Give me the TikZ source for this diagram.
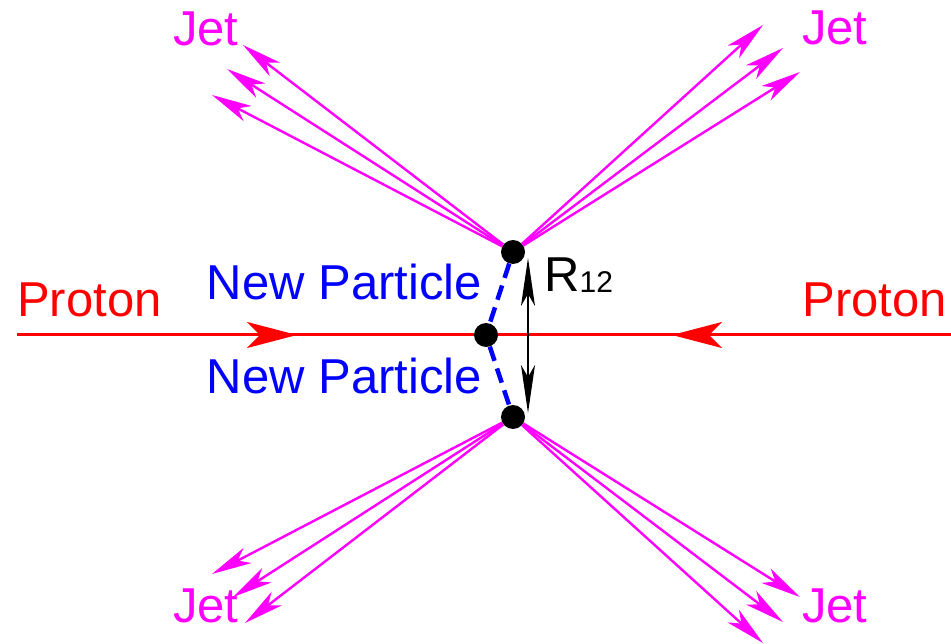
\documentclass[tikz,border=0pt]{standalone}
\usepackage{fontspec}
\setmainfont{Liberation Sans}
\usetikzlibrary{arrows.meta}
\definecolor{jetmag}{RGB}{255,0,255}
\definecolor{protred}{RGB}{255,0,0}
\definecolor{partblue}{RGB}{0,0,255}

\begin{document}
\begin{tikzpicture}[x=1pt,y=-1pt,
  lbl/.style={inner sep=0pt, font=\fontsize{49}{51}\selectfont},
  dot/.style={circle, fill=black, inner sep=0pt, minimum size=24pt},
  proton/.style={protred, line width=3pt},
  protonhead/.style={proton, -{Stealth[length=50pt,width=26pt,inset=13pt]}},
  jet/.style={jetmag, line width=2.4pt, -{Stealth[length=40pt,width=17pt,inset=11pt]}},
  newp/.style={partblue, line width=4.5pt, dash pattern=on 15pt off 8pt},
  rarrow/.style={black, line width=2.4pt, {Stealth[length=48pt,width=14pt,inset=12pt]}-{Stealth[length=48pt,width=14pt,inset=12pt]}}
]
\useasboundingbox (0,0) rectangle (951,644);

% vertices
\node[dot](c) at (486,335){};
\node[dot](top) at (513,252){};
\node[dot](bot) at (513,417){};

% beams
\coordinate (pl) at (17,335);
\coordinate (pr) at (951,335);
\coordinate (hl) at (297,335);
\coordinate (hr) at (672,335);
\draw[proton] (pl) -- (c) -- (pr);
\draw[protonhead] (pl) -- (hl);
\draw[protonhead] (pr) -- (hr);
\node[lbl, protred, anchor=base west](protonl) at (17,317){Proton};
\node[lbl, protred, anchor=base east](protonr) at (947,317){Proton};

% new particles
\draw[newp] (top) -- (c) -- (bot);
\node[lbl, partblue, anchor=base east](newtop) at (482,300){New Particle};
\node[lbl, partblue, anchor=base east](newbot) at (482,393){New Particle};

% separation
\coordinate (r1) at (528,258);
\coordinate (r2) at (528,413);
\draw[rarrow] (r1) -- (r2);
\node[lbl, anchor=base west](rlab) at (544,292){R\raisebox{-1pt}{\fontsize{30}{31}\selectfont 12}};

% jets
\coordinate (tl1) at (243,45);
\coordinate (tl2) at (227,69);
\coordinate (tl3) at (212,95);
\coordinate (tr1) at (763,25);
\coordinate (tr2) at (783,48);
\coordinate (tr3) at (800,72);
\coordinate (bl1) at (212,574);
\coordinate (bl2) at (233,597);
\coordinate (bl3) at (245,623);
\coordinate (br1) at (800,597);
\coordinate (br2) at (783,622);
\coordinate (br3) at (763,643);
\foreach \i in {1,2,3}{
  \draw[jet] (top) -- (tl\i);
  \draw[jet] (top) -- (tr\i);
  \draw[jet] (bot) -- (bl\i);
  \draw[jet] (bot) -- (br\i);
}
\node[lbl, jetmag, anchor=base west](jettl) at (173,46){Jet};
\node[lbl, jetmag, anchor=base west](jettr) at (802,45){Jet};
\node[lbl, jetmag, anchor=base west](jetbl) at (173,622){Jet};
\node[lbl, jetmag, anchor=base west](jetbr) at (802,622){Jet};
\end{tikzpicture}
\end{document}
